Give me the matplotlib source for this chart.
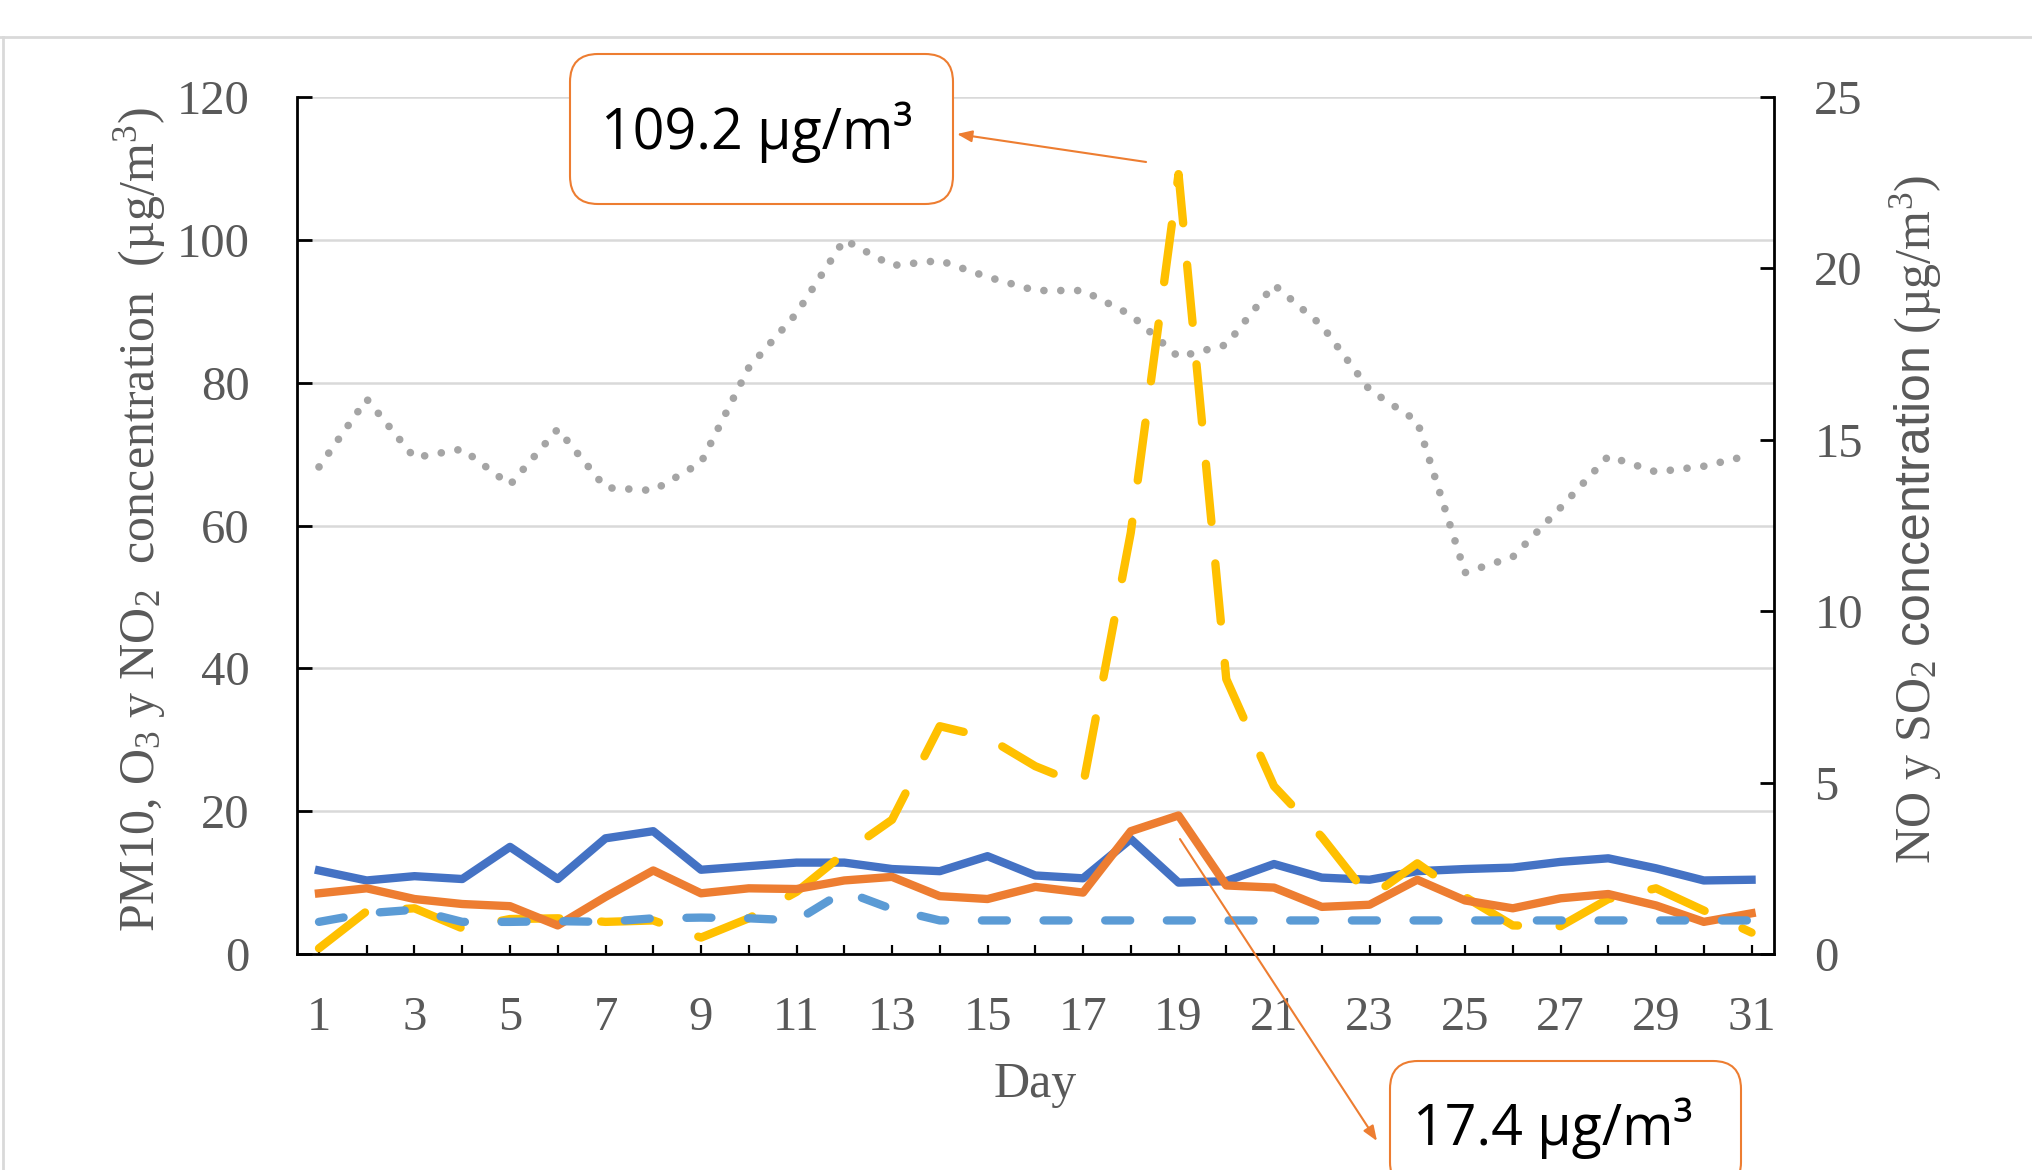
import matplotlib
matplotlib.use('Agg')
import matplotlib.pyplot as plt
from matplotlib.patches import FancyBboxPatch
from matplotlib.lines import Line2D
from matplotlib.transforms import IdentityTransform

plt.rcParams['font.family'] = ['Liberation Serif', 'DejaVu Serif']
plt.rcParams['mathtext.fontset'] = 'custom'
plt.rcParams['mathtext.rm'] = 'Liberation Serif'
plt.rcParams['mathtext.sf'] = 'Liberation Sans'
plt.rcParams['mathtext.it'] = 'Liberation Serif:italic'
plt.rcParams['mathtext.default'] = 'rm'

# data (all plotted against the left axis scale)
days = list(range(1, 32))
day_labels = ['1', '', '3', '', '5', '', '7', '', '9', '', '11', '', '13', '', '15', '',
              '17', '', '19', '', '21', '', '23', '', '25', '', '27', '', '29', '', '31']
pm10 = [0.8, 6.0, 6.4, 3.6, 4.9, 5.0, 4.5, 4.7, 2.3, 5.0, 8.7, 14.1, 18.8, 31.9, 30.3, 26.3,
        23.6, 59.0, 109.2, 38.5, 23.5, 16.4, 7.9, 12.7, 8.0, 4.0, 3.9, 7.7, 9.2, 6.1, 3.0]
o3 = [68.2, 77.7, 69.5, 70.7, 65.7, 73.5, 65.3, 64.9, 68.8, 82.1, 89.7, 100.0, 96.4, 97.1, 94.8, 92.9,
      92.9, 89.5, 83.6, 85.3, 93.7, 88.0, 79.0, 74.6, 53.4, 55.6, 62.5, 69.7, 67.5, 68.3, 69.9]
no2 = [11.7, 10.3, 10.9, 10.5, 15.0, 10.5, 16.2, 17.2, 11.8, 12.3, 12.8, 12.8, 11.9, 11.6, 13.7, 11.0,
       10.6, 16.1, 10.0, 10.2, 12.6, 10.7, 10.4, 11.6, 11.9, 12.1, 12.9, 13.4, 12.0, 10.3, 10.4]
no = [8.5, 9.2, 7.7, 7.0, 6.7, 4.0, 8.0, 11.7, 8.5, 9.2, 9.1, 10.3, 10.8, 8.1, 7.7, 9.4,
      8.6, 17.2, 19.4, 9.6, 9.3, 6.6, 6.9, 10.4, 7.5, 6.4, 7.8, 8.4, 6.8, 4.5, 5.7]
so2 = [4.5, 5.7, 6.2, 4.5, 4.5, 4.6, 4.5, 5.0, 5.1, 5.0, 4.7, 8.8, 6.3, 4.7, 4.7, 4.7,
       4.7, 4.7, 4.7, 4.7, 4.7, 4.7, 4.7, 4.7, 4.7, 4.7, 4.7, 4.7, 4.7, 4.7, 4.7]
left_ticks = [0, 20, 40, 60, 80, 100, 120]
right_ticks = [0, 5, 10, 15, 20, 25]

grey_txt = '#595959'
orange = '#ED7D31'

fig = plt.figure(figsize=(20.33, 11.70), dpi=100)
ax = fig.add_axes([0.1461, 0.1846, 0.7265, 0.7325])

ax.plot(days, o3, color='#A5A5A5', lw=5.5, dashes=(0.01, 2.2), dash_capstyle='round', zorder=3)
ax.plot(days, no2, color='#4472C4', lw=6, zorder=4)
ax.plot(days, pm10, color='#FFC000', lw=6, dashes=(7, 5), dash_capstyle='round', zorder=5)
ax.plot(days, no, color=orange, lw=6, zorder=6)
ax.plot(days, so2, color='#5B9BD5', lw=6, dashes=(3.0, 4.4), dash_capstyle='round', zorder=7)

ax.set_xlim(0.54, 31.47)
ax.set_ylim(0, 120)
ax.set_xticks(days)
ax.set_xticklabels(day_labels)
ax.set_yticks(left_ticks)
ax.grid(axis='y', color='#D9D9D9', lw=1.8, zorder=0)
ax.set_axisbelow(True)
ax.spines['top'].set_visible(False)
ax.spines['right'].set_visible(False)
for s in ['left', 'bottom']:
    ax.spines[s].set_linewidth(2)
ax.tick_params(axis='x', direction='in', length=6.5, width=1.6, pad=30,
               labelsize=35, labelcolor=grey_txt)
ax.tick_params(axis='y', direction='in', length=11, width=2, pad=34,
               labelsize=35, labelcolor=grey_txt)

ax2 = ax.twinx()
ax2.set_ylim(0, 25)
ax2.set_yticks(right_ticks)
for s in ['left', 'top', 'bottom']:
    ax2.spines[s].set_visible(False)
ax2.spines['right'].set_linewidth(2)
ax2.tick_params(axis='y', direction='in', length=10, width=2, pad=29,
                labelsize=35, labelcolor=grey_txt)

fig.text(140 / 2033, 1 - 520 / 1170, r'PM10, O$_3$ y NO$_2$  concentration  (µg/m$^3$)',
         rotation=90, ha='center', va='center', fontsize=36, color=grey_txt)
fig.text(1916 / 2033, 1 - 519 / 1170, r'NO y SO$_2$ $\mathsf{concentration}$ (µg/m$^3$)',
         rotation=90, ha='center', va='center', fontsize=36, color=grey_txt)
fig.text(1035 / 2033, 1 - 1085 / 1170, 'Day', ha='center', va='center',
         fontsize=36, color=grey_txt)

# callout boxes
box1 = FancyBboxPatch((570, 966), 383, 150, boxstyle='round,pad=0,rounding_size=28',
                      transform=IdentityTransform(), ec=orange, fc='white', lw=1.5, zorder=20)
box2 = FancyBboxPatch((1390, -20), 351, 129, boxstyle='round,pad=0,rounding_size=28',
                      transform=IdentityTransform(), ec=orange, fc='white', lw=1.5, zorder=20)
fig.add_artist(box1)
fig.add_artist(box2)
fig.text(757 / 2033, 1038 / 1170, '109.2 µg/m³', ha='center', va='center',
         fontsize=40, family='Open Sans', color='black', zorder=21)
fig.text(1553 / 2033, 42 / 1170, '17.4 µg/m³', ha='center', va='center',
         fontsize=40, family='Open Sans', color='black', zorder=21)

arrow = dict(arrowstyle='-|>,head_length=0.9,head_width=0.35', color=orange, lw=1.5,
             shrinkA=0, shrinkB=0)
ax.annotate('', xy=(957, 1036), xycoords='figure pixels', xytext=(18.32, 110.9),
            textcoords='data', arrowprops=arrow, annotation_clip=False, zorder=10)
ax.annotate('', xy=(1377, 29), xycoords='figure pixels', xytext=(19.03, 16.1),
            textcoords='data', arrowprops=arrow, annotation_clip=False, zorder=10)

# frame of the original slide
fig.add_artist(Line2D([0, 1], [1 - 37 / 1170] * 2, transform=fig.transFigure,
                      color='#D9D9D9', lw=2))
fig.add_artist(Line2D([3 / 2033] * 2, [0, 1 - 37 / 1170], transform=fig.transFigure,
                      color='#D9D9D9', lw=2))

fig.savefig('out.png', dpi=100)
